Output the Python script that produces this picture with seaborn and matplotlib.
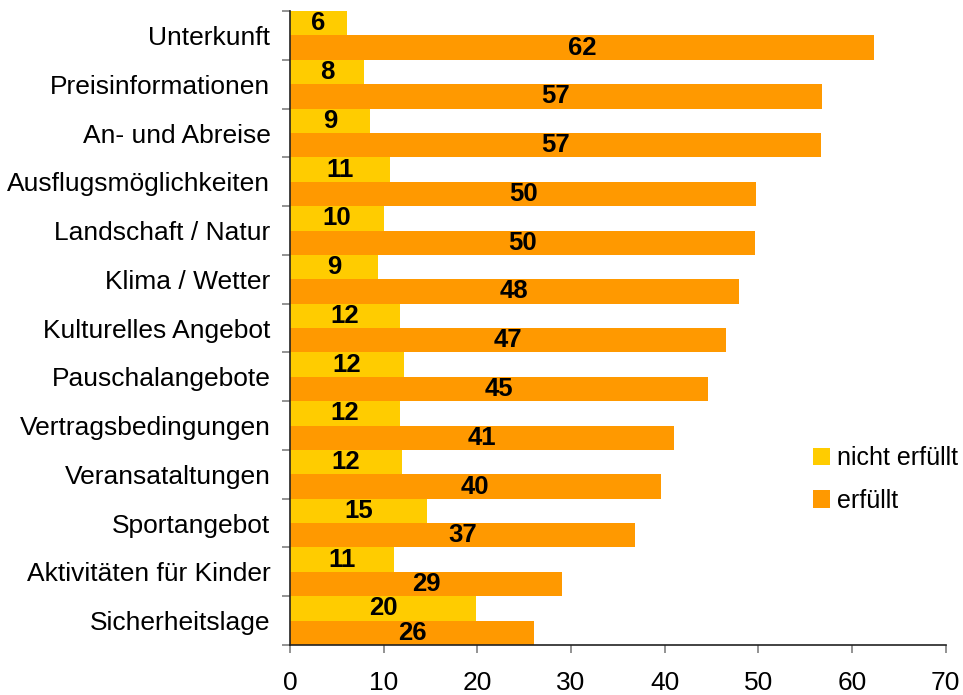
import numpy as np
import pandas as pd
import matplotlib
matplotlib.use("Agg")
import matplotlib.pyplot as plt
import seaborn as sns

# values
categories = ["Unterkunft", "Preisinformationen", "An- und Abreise",
              "Ausflugsmöglichkeiten", "Landschaft / Natur", "Klima / Wetter",
              "Kulturelles Angebot", "Pauschalangebote", "Vertragsbedingungen",
              "Veransataltungen", "Sportangebot", "Aktivitäten für Kinder",
              "Sicherheitslage"]
nicht_erfuellt = [6.1, 7.9, 8.6, 10.7, 10.1, 9.4, 11.8, 12.2, 11.8, 12.0, 14.6, 11.1, 19.9]
erfuellt = [62.4, 56.8, 56.7, 49.8, 49.7, 47.9, 46.6, 44.6, 41.0, 39.6, 36.8, 29.1, 26.1]
series = ["nicht erfüllt", "erfüllt"]
colors = ["#FFCC00", "#FF9900"]

df = pd.DataFrame({
    "Kategorie": categories * 2,
    "Serie": [series[0]] * len(categories) + [series[1]] * len(categories),
    "Wert": nicht_erfuellt + erfuellt,
})

sns.set_style("white")
plt.rcParams["font.family"] = ["Liberation Sans", "DejaVu Sans"]
plt.rcParams["text.color"] = "black"
plt.rcParams["xtick.color"] = "black"
plt.rcParams["ytick.color"] = "black"

fig = plt.figure(figsize=(9.63, 6.95), dpi=100)
ax = fig.add_axes([0.301, 0.072, 0.681, 0.912])

sns.barplot(data=df, x="Wert", y="Kategorie", hue="Serie", hue_order=series,
            palette=colors, orient="h", width=1.0, gap=0, ax=ax,
            errorbar=None, saturation=1, legend=True, linewidth=0)

for cont, vals in zip(ax.containers, [nicht_erfuellt, erfuellt]):
    ax.bar_label(cont, labels=[f"{round(v)}" for v in vals], label_type="center",
                 fontsize=18.5, fontweight="bold", color="black")

ax.set_xlim(0, 70)
ax.set_ylim(len(categories) - 0.5, -0.5)
ax.set_xticks(np.arange(0, 71, 10))
ax.set_yticks(np.arange(-0.5, len(categories)), labels=[])
ax.set_yticks(np.arange(len(categories)), labels=categories, minor=True)
ax.tick_params(axis="y", which="minor", length=0, labelsize=19, pad=14)
ax.tick_params(axis="y", which="major", length=6, width=1.2, color="#808080", left=True)
ax.tick_params(axis="x", length=6, width=1.2, color="#808080", labelsize=19, pad=13, bottom=True)
ax.set_xlabel("")
ax.set_ylabel("")

for side in ["top", "right"]:
    ax.spines[side].set_visible(False)
for side in ["left", "bottom"]:
    ax.spines[side].set_color("#222222")
    ax.spines[side].set_linewidth(1.2)

handles, labels = ax.get_legend_handles_labels()
ax.legend(handles, labels, loc="center left", bbox_to_anchor=(0.844, 0.31),
          bbox_transform=fig.transFigure, frameon=False, fontsize=18,
          handlelength=0.7, handleheight=0.7, handletextpad=0.25,
          labelspacing=0.75, borderaxespad=0, borderpad=0)

fig.savefig("out.png", dpi=100)
